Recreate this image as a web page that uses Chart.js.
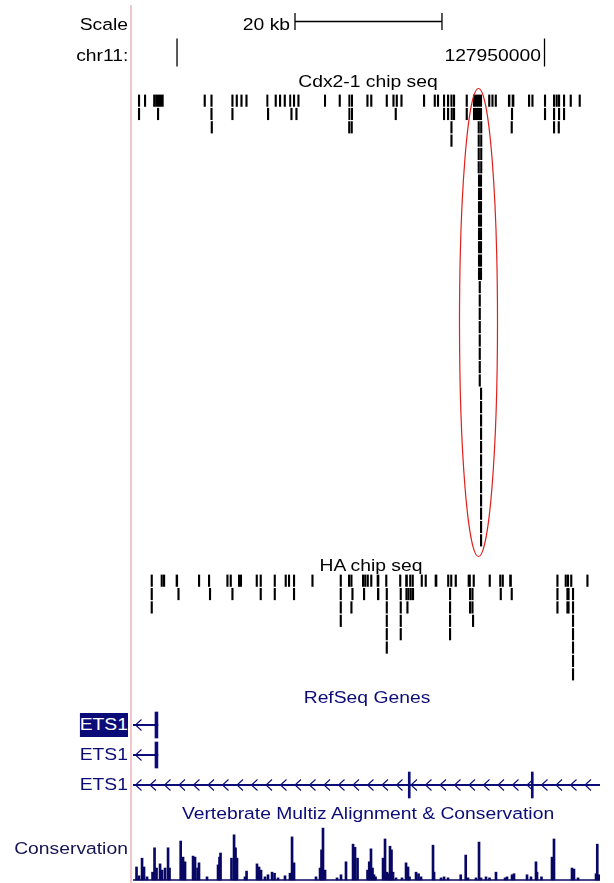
<!DOCTYPE html>
<html>
<head>
<meta charset="utf-8">
<script src="https://cdn.jsdelivr.net/npm/chart.js@4.4.0/dist/chart.umd.min.js"></script>
<style>
  body { margin: 0; width: 614px; height: 883px; position: relative; overflow: hidden; background: #fff;
         font-family: "Liberation Sans", Arial, sans-serif; }
  canvas { position: absolute; left: 133px; }
  .lbl { position: absolute; white-space: nowrap; font-size: 16.8px; line-height: 24px; }
  #sep { position: absolute; left: 130px; top: 5px; width: 2px; height: 878px; background: #efc6cc; }
</style>
</head>
<body>
<div id="sep"></div>
<canvas id="ruler" width="467" height="62" style="top:6px"></canvas>
<canvas id="cdx" width="467" height="453" style="top:94px"></canvas>
<canvas id="ha" width="467" height="107" style="top:574px"></canvas>
<canvas id="genes" width="467" height="90" style="top:710px"></canvas>
<canvas id="cons" width="467" height="55" style="top:826px"></canvas>
<svg style="position:absolute;left:0;top:0" width="614" height="883">
  <ellipse cx="478.5" cy="322.5" rx="19" ry="234" fill="none" stroke="#e0201c" stroke-width="1.2"/>
</svg>
<script>
// positions are kb from chr11:127,900,000
const VIEW_START = -5.99;
const VIEW_END = 57.55;
const PEAK_KB = 0.2; // default peak length when only a start is given

const scaleBar = [16.05, 36.05];
const scaleBarLabel = '20 kb';
const rulerTicks = [0, 50];
const rulerLabels = ['', '127950000'];

// Cdx2-1 chip seq, one array per packed row (number = short peak, pair = [start, end])
const cdxRows = [
  [-5.27, -4.45, -3.20, [-2.93, -1.86], 3.67, 4.59, 7.44, 8.03, 8.67, 9.35, [12.20, 12.38], 13.33, 13.92,
   14.56, [15.31, 15.47], 15.82, 16.42, [20.04, 20.23], 22.04, [23.36, 23.50], [23.71, 23.90], 25.81, 26.33,
   28.44, 29.35, 29.80, 30.44, 33.51, 34.97, 35.41, 36.23, 36.78, 37.24, 37.59, 39.32, [40.31, 41.46], 42.38,
   42.82, 43.27, [45.07, 45.31], [45.58, 45.85], 47.80, 48.26, 49.97, 51.20, 51.56, 51.88, 52.56, 53.47, 54.69],
  [-5.27, -2.68, 4.59, 7.44, 12.29, 15.47, 16.15, [23.36, 23.50], [23.71, 23.90], 29.66, 36.23, 36.78, 37.28,
   37.59, 39.32, [40.31, 41.46], 45.48, 49.97, 51.20, 51.88, 52.56],
  [4.63, 23.33, 23.67, 37.24, 40.95, 41.29, 45.44, 51.20, 51.84],
  [37.24, 40.95, 41.29],
  [40.95, 41.29],
  [40.95, 41.29],
  [[40.99, 41.46]], [[40.99, 41.46]], [[40.99, 41.46]], [[40.99, 41.46]],
  [[40.99, 41.46]], [[40.99, 41.46]], [[40.99, 41.46]], [[40.99, 41.46]],
  [41.09], [41.09], [41.09], [41.09], [41.09], [41.09], [41.09], [41.09],
  [41.27], [41.27], [41.27], [41.27], [41.27], [41.27],
  [41.27], [41.27], [41.27], [41.27], [41.27], [41.27]
];

// HA chip seq
const haRows = [
  [-3.54, -2.18, -1.86, [-0.14, 0.10], 2.90, 4.26, 6.76, 7.21, [8.34, 8.80], 10.75, 11.29, 13.20, 14.69, 15.14,
   15.82, 18.33, 22.18, 23.31, 23.63, 25.21, 25.51, 25.85, 26.33, [27.21, 27.48], 28.37, 30.27, [31.09, 31.36],
   31.63, 31.97, 33.20, 33.74, [35.10, 35.37], 36.80, 37.21, [37.82, 38.03], [39.59, 39.93], 40.27, 42.45,
   43.88, 44.22, [45.24, 45.51], 51.66, 52.79, 53.10, 53.54, 55.74],
  [-3.54, 0.10, 4.39, 7.44, 11.29, 13.20, 15.82, 22.18, 23.77, 25.35, [27.25, 27.48], 28.44, 30.34, 31.12,
   31.39, 31.70, 32.01, 37.05, 39.77, 40.10, 43.95, 45.44, 51.66, [53.02, 53.37], 53.78],
  [-3.54, 22.18, 23.63, 28.44, 30.34, 31.25, 37.05, 39.77, 40.10, 51.66, [53.02, 53.37], 53.78],
  [22.18, 28.44, 30.34, 37.05, 40.18, 53.78],
  [28.44, 30.34, 37.05, 53.78],
  [28.44, 53.78],
  [53.78],
  [53.78]
];

// RefSeq genes (one transcript per row)
const geneNames = ['ETS1', 'ETS1', 'ETS1'];
const geneTx = [[-20, -2.6], [-20, -2.6], [-20, 70]];
const geneExons = [[[-3.0, -2.6]], [[-3.0, -2.6]], [[31.46, 31.66], [48.2, 48.4]]];
const selectedGene = 0;

// conservation score
const consPos = [
  -5.51, -5.17, -4.76, -4.49, -4.08, -3.33, -3.06, -2.79, -2.31, -2.04, -1.63, -1.22, -1.02,
  0.50, 0.82, 1.09, 2.18, 2.45, 2.79, 2.99, 4.08, 5.58, 5.78, 5.92, 7.41, 7.76, 7.96, 8.16,
  9.25, 9.46, 10.88, 11.16, 11.43, 11.97, 12.38, 12.93, 13.27, 13.74, 14.69, 15.37, 15.65, 15.92,
  18.91, 19.46, 19.66, 19.86, 20.14, 21.77, 22.31, 22.99, 23.95, 24.22, 24.56,
  25.92, 26.15, 26.39, 26.60, 26.80, 27.01, 28.03, 28.30, 28.57, 28.84, 28.98, 29.18, 29.39, 29.80,
  30.61, 31.16, 31.43, 31.63, 32.52, 32.86, 33.20, 34.83, 34.97, 35.92, 36.33, 36.87,
  38.60, 39.28, 39.59, 40.68, 41.09, 41.36, 42.04, 42.52, 43.40, 44.63, 44.90, 45.58, 45.85,
  47.62, 48.16, 48.84, 48.98, 49.59, 51.02, 51.29, 53.74, 54.01, 54.56, 57.01, 57.18, 57.41
];
const consScore = [
  0.25, 0.08, 0.42, 0.25, 0.06, 0.15, 0.62, 0.23, 0.31, 0.19, 0.23, 0.62, 0.23,
  0.75, 0.44, 0.35, 0.46, 0.44, 0.23, 0.33, 0.06, 0.29, 0.44, 0.52, 0.42, 0.87, 0.62, 0.42,
  0.06, 0.17, 0.31, 0.25, 0.19, 0.06, 0.10, 0.15, 0.13, 0.04, 0.08, 0.13, 0.83, 0.33,
  0.06, 0.23, 0.58, 1.00, 0.19, 0.04, 0.10, 0.35, 0.69, 0.63, 0.42,
  0.19, 0.35, 0.60, 0.23, 0.10, 0.06, 0.42, 0.79, 0.15, 0.12, 0.65, 0.58, 0.15, 0.04,
  0.04, 0.33, 0.25, 0.06, 0.15, 0.12, 0.06, 0.67, 0.15, 0.04, 0.06, 0.04,
  0.10, 0.48, 0.04, 0.04, 0.73, 0.04, 0.06, 0.04, 0.15, 0.04, 0.06, 0.10, 0.12,
  0.10, 0.06, 0.35, 0.15, 0.06, 0.44, 0.79, 0.23, 0.21, 0.04, 0.12, 0.69, 0.10
];

const NAVY = 'rgb(12,12,120)';
const CONS_COLOR = 'rgb(8,8,100)';

function label(text, x, baseline, align, color) {
  const d = document.createElement('div');
  d.className = 'lbl';
  d.textContent = text;
  d.style.color = color;
  d.style.top = (baseline - 17.8) + 'px';
  if (align === 'right') {
    d.style.right = (614 - x) + 'px';
    d.style.transformOrigin = '100% 50%';
    d.style.transform = 'scaleX(1.15)';
  } else {
    d.style.left = x + 'px';
    d.style.transformOrigin = '50% 50%';
    d.style.transform = 'translateX(-50%) scaleX(1.15)';
  }
  document.body.appendChild(d);
  return d;
}

function trackOptions(yMin, yMax, reverse, indexAxis) {
  return {
    indexAxis: indexAxis,
    animation: false,
    responsive: false,
    events: [],
    layout: { padding: 0, autoPadding: false },
    plugins: { legend: { display: false }, tooltip: { enabled: false } },
    scales: {
      x: { type: 'linear', min: VIEW_START, max: VIEW_END, offset: false, display: false },
      y: { type: 'linear', min: yMin, max: yMax, reverse: reverse, offset: false, display: false }
    }
  };
}

function peakBars(rows) {
  const out = [];
  rows.forEach((row, r) => row.forEach(p => {
    out.push({ x: Array.isArray(p) ? p : [p, p + PEAK_KB], y: r });
  }));
  return out;
}

// ruler: scale bar and chromosome position ticks
const ruler = new Chart(document.getElementById('ruler'), {
  type: 'line',
  data: {
    datasets: [{
      data: scaleBar.map(x => ({ x: x, y: 0 })),
      borderColor: '#000', borderWidth: 1.3,
      pointStyle: 'line', pointRotation: 90, pointRadius: 8.5,
      pointBorderColor: '#000', pointBorderWidth: 1.3
    }, {
      data: rulerTicks.map(x => ({ x: x, y: 1 })),
      showLine: false,
      pointStyle: 'line', pointRotation: 90, pointRadius: 14,
      pointBorderColor: '#000', pointBorderWidth: 1.3
    }]
  },
  options: trackOptions(-0.5, 1.5, true, 'x')
});

// ChIP-seq peak tracks
function peakChart(id, rows) {
  return new Chart(document.getElementById(id), {
    type: 'bar',
    data: {
      datasets: [{
        data: peakBars(rows),
        backgroundColor: '#000',
        barThickness: 11.5,
        minBarLength: 1.3,
        grouped: false
      }]
    },
    options: trackOptions(-0.5, rows.length - 0.5, true, 'y')
  });
}
peakChart('cdx', cdxRows);
peakChart('ha', haRows);

// gene models: introns with chevrons, exons as boxes
const chevrons = {
  id: 'chevrons',
  afterDatasetsDraw(chart) {
    const { ctx, chartArea } = chart;
    ctx.save();
    ctx.beginPath();
    ctx.rect(chartArea.left, chartArea.top, chartArea.width, chartArea.height);
    ctx.clip();
    ctx.strokeStyle = NAVY;
    ctx.lineWidth = 1.1;
    chart.getDatasetMeta(0).data.forEach(bar => {
      const left = Math.min(bar.x, bar.base);
      const right = Math.min(Math.max(bar.x, bar.base), chartArea.right);
      for (let x = chartArea.left + 2.5; x < right - 8; x += 14.5) {
        if (x < left) continue;
        ctx.beginPath();
        ctx.moveTo(x + 6, bar.y - 5.5);
        ctx.lineTo(x, bar.y);
        ctx.lineTo(x + 6, bar.y + 5.5);
        ctx.stroke();
      }
    });
    ctx.restore();
  }
};

const exonBars = [];
geneExons.forEach((exons, r) => exons.forEach(e => exonBars.push({ x: e, y: r })));

new Chart(document.getElementById('genes'), {
  type: 'bar',
  data: {
    datasets: [{
      data: geneTx.map((t, r) => ({ x: t, y: r })),
      backgroundColor: NAVY, barThickness: 1.3, grouped: false
    }, {
      data: exonBars,
      backgroundColor: NAVY, barThickness: 26, minBarLength: 2, grouped: false
    }]
  },
  options: trackOptions(-0.5, geneTx.length - 0.5, true, 'y'),
  plugins: [chevrons]
});

// conservation wiggle
new Chart(document.getElementById('cons'), {
  type: 'bar',
  data: {
    datasets: [{
      data: consPos.map((x, i) => ({ x: x, y: consScore[i] })),
      backgroundColor: CONS_COLOR, barThickness: 2, grouped: false
    }, {
      type: 'line',
      data: [{ x: VIEW_START, y: 0 }, { x: VIEW_END, y: 0 }],
      borderColor: CONS_COLOR, borderWidth: 1.5, pointRadius: 0
    }]
  },
  options: trackOptions(-0.02, 1.04, false, 'x')
});

// text
const px = v => 133 + ruler.scales.x.getPixelForValue(v);
label('Scale', 128, 30.5, 'right', '#000');
label(scaleBarLabel, px(scaleBar[0]) - 5, 30.5, 'right', '#000');
label('chr11:', 128, 61.5, 'right', '#000');
rulerTicks.forEach((t, i) => {
  if (rulerLabels[i]) label(rulerLabels[i], px(t) - 4, 61.5, 'right', '#000');
});
label('Cdx2-1 chip seq', 367.5, 88, 'center', '#000');
label('HA chip seq', 370.5, 571.5, 'center', '#000');
label('RefSeq Genes', 366.5, 703.5, 'center', NAVY);
geneNames.forEach((g, i) => {
  const d = label(g, 128, 731 + i * 30, 'right', i === selectedGene ? '#fff' : NAVY);
  if (i === selectedGene) d.style.background = NAVY;
});
label('Vertebrate Multiz Alignment & Conservation', 367.5, 820, 'center', NAVY);
label('Conservation', 128, 855, 'right', 'rgb(20,20,80)');
</script>
</body>
</html>
